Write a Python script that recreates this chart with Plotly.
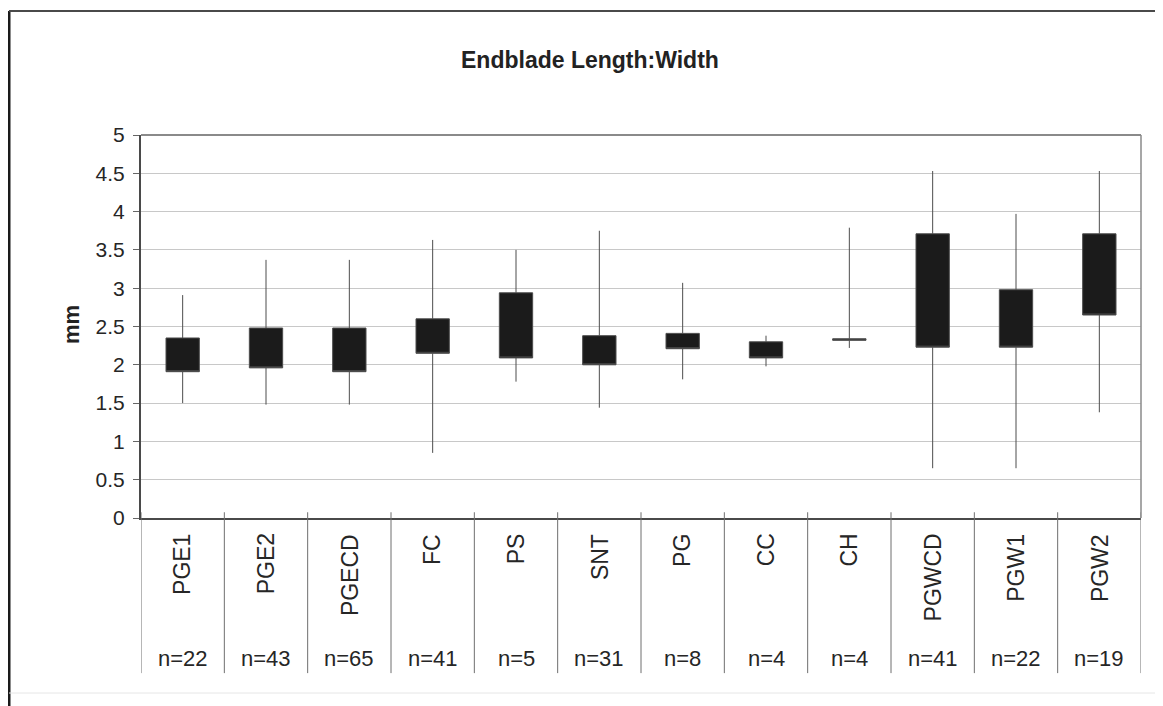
import plotly.graph_objects as go

# data
categories = ["PGE1", "PGE2", "PGECD", "FC", "PS", "SNT", "PG", "CC", "CH", "PGWCD", "PGW1", "PGW2"]
n_counts = [22, 43, 65, 41, 5, 31, 8, 4, 4, 41, 22, 19]
high = [2.91, 3.37, 3.37, 3.63, 3.50, 3.75, 3.07, 2.38, 3.79, 4.53, 3.97, 4.53]
box_top = [2.35, 2.48, 2.48, 2.60, 2.94, 2.38, 2.41, 2.30, 2.34, 3.71, 2.98, 3.71]
box_bottom = [1.91, 1.96, 1.91, 2.15, 2.09, 2.00, 2.21, 2.09, 2.32, 2.23, 2.23, 2.65]
low = [1.50, 1.48, 1.48, 0.85, 1.78, 1.44, 1.81, 1.98, 2.22, 0.65, 0.65, 1.38]
y_ticks = [0, 0.5, 1, 1.5, 2, 2.5, 3, 3.5, 4, 4.5, 5]

FONT = "Liberation Sans, Arial, sans-serif"

fig = go.Figure()
fig.add_trace(go.Box(
    x=categories,
    q1=box_bottom,
    median=box_bottom,
    q3=box_top,
    lowerfence=low,
    upperfence=high,
    width=0.4,
    whiskerwidth=0,
    fillcolor="#1b1b1b",
    line=dict(color="#4d4d4d", width=1),
    showlegend=False,
    hoverinfo="skip",
))

shapes = []
# category separators (table below the axis)
for i in range(len(categories) + 1):
    shapes.append(dict(type="line", xref="x", yref="paper", x0=i - 0.5, x1=i - 0.5,
                       y0=0.015, y1=-0.405, line=dict(color="#6f6f6f", width=1)))
# outer chart border
shapes.append(dict(type="line", xref="paper", yref="paper", x0=-0.132, x1=-0.132,
                   y0=1.324, y1=-0.5, line=dict(color="#1a1a1a", width=3)))
shapes.append(dict(type="line", xref="paper", yref="paper", x0=-0.132, x1=1.05,
                   y0=1.324, y1=1.324, line=dict(color="#4a4a4a", width=2)))
shapes.append(dict(type="line", xref="paper", yref="paper", x0=-0.132, x1=1.05,
                   y0=-0.457, y1=-0.457, line=dict(color="#e6e6e6", width=1)))
# lighter top and right frame of plot area
shapes.append(dict(type="line", xref="paper", yref="paper", x0=0, x1=1, y0=1, y1=1,
                   line=dict(color="#8a8a8a", width=2)))
shapes.append(dict(type="line", xref="paper", yref="paper", x0=1, x1=1, y0=0, y1=1,
                   line=dict(color="#8a8a8a", width=1.5)))

annotations = [
    dict(text="<b>Endblade Length:Width</b>", xref="paper", yref="paper", x=0.449, y=1.196,
         xanchor="center", yanchor="middle", showarrow=False,
         font=dict(family=FONT, size=23, color="#222222")),
    dict(text="<b>mm</b>", xref="paper", yref="paper", x=-0.069, y=0.504, textangle=-90,
         xanchor="center", yanchor="middle", showarrow=False,
         font=dict(family=FONT, size=22, color="#222222")),
]
for cat, n in zip(categories, n_counts):
    annotations.append(dict(text=cat, xref="x", yref="paper", x=cat, y=-0.036, textangle=-90,
                            xanchor="center", yanchor="top", showarrow=False,
                            font=dict(family=FONT, size=23, color="#262626")))
    annotations.append(dict(text=f"n={n}", xref="x", yref="paper", x=cat, y=-0.366,
                            xanchor="center", yanchor="middle", showarrow=False,
                            font=dict(family=FONT, size=22, color="#262626")))

# page body adds an 8px margin, so the figure is drawn 8px smaller
fig.update_layout(
    width=1155, height=698,
    margin=dict(l=133, r=22, t=127, b=188),
    paper_bgcolor="white", plot_bgcolor="white",
    shapes=shapes, annotations=annotations,
    xaxis=dict(type="category", range=[-0.5, len(categories) - 0.5], showticklabels=False,
               showgrid=False, showline=True, linecolor="#4a4a4a", linewidth=2, mirror=False,
               ticks=""),
    yaxis=dict(range=[0, 5], tickvals=y_ticks, ticktext=[f"{v:g}" for v in y_ticks],
               showgrid=True, gridcolor="#c8c8c8", gridwidth=1, zeroline=False,
               showline=True, linecolor="#4a4a4a", linewidth=2, ticks="outside", ticklen=6,
               tickcolor="#666666", ticklabelstandoff=4,
               tickfont=dict(family=FONT, size=21, color="#262626")),
)

fig.write_html("out.html")
